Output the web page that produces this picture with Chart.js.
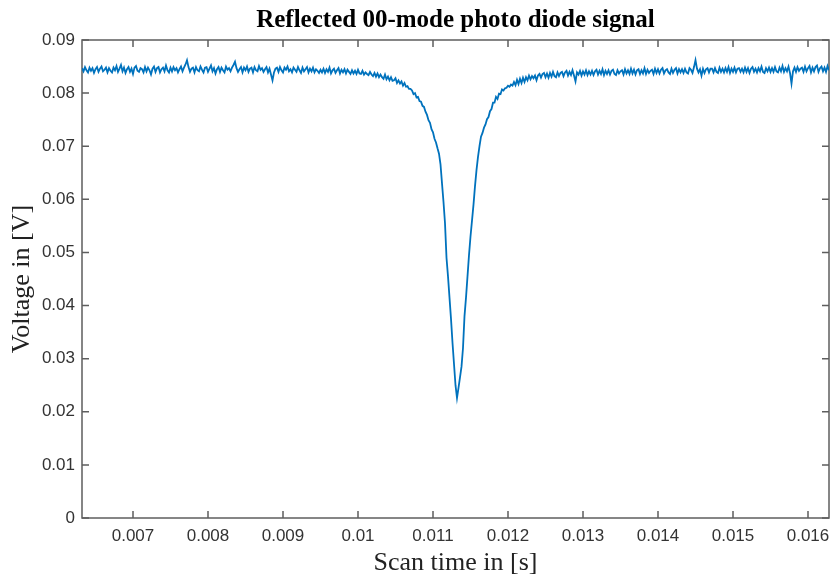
<!DOCTYPE html>
<html>
<head>
<meta charset="utf-8">
<script src="https://cdn.jsdelivr.net/npm/chart.js@4.4.1/dist/chart.umd.min.js"></script>
<style>
  html, body { margin: 0; padding: 0; background: #fff; }
</style>
</head>
<body>
<canvas id="diodeChart" width="834" height="577"></canvas>
<script>
const chartTitle = 'Reflected 00-mode photo diode signal';
const xTitle = 'Scan time in [s]';
const yTitle = 'Voltage in [V]';

const xTicks = [0.007, 0.008, 0.009, 0.010, 0.011, 0.012, 0.013, 0.014, 0.015, 0.016];
const xTickLabels = ['0.007', '0.008', '0.009', '0.01', '0.011', '0.012', '0.013', '0.014', '0.015', '0.016'];
const yTicks = [0, 0.01, 0.02, 0.03, 0.04, 0.05, 0.06, 0.07, 0.08, 0.09];
const yTickLabels = ['0', '0.01', '0.02', '0.03', '0.04', '0.05', '0.06', '0.07', '0.08', '0.09'];

// scope trace: first sample time and sample spacing
const t0 = 0.00632;
const dt = 0.00002;

// photo diode voltage in mV, one value per sample
const signalMV = [
  84.7,84.1,84.9,84.3,83.9,84.8,84.2,84.7,83.8,84.5,84.9,84.0,84.6,85.0,84.1,84.4,84.8,83.9,84.7,84.2,
  83.9,84.8,84.3,85.1,84.0,84.6,85.3,84.1,84.8,83.8,84.5,84.9,84.0,84.6,83.6,84.8,85.1,84.2,84.0,84.7,
  84.5,83.9,84.9,84.1,84.8,84.3,83.5,84.6,85.0,84.0,84.7,84.9,83.9,84.5,84.8,84.1,85.2,84.3,83.9,84.8,
  84.1,84.9,84.3,84.7,83.9,84.5,85.0,84.1,84.8,85.4,86.2,84.9,84.0,84.6,84.8,83.9,84.9,84.3,84.1,85.0,
  84.4,83.9,84.8,84.9,84.0,84.6,85.2,84.1,84.7,83.7,84.5,84.9,84.0,84.8,84.3,83.9,85.0,84.4,84.7,84.1,
  84.8,85.3,85.9,84.7,84.0,84.5,84.9,83.9,84.8,84.3,85.0,84.0,84.6,84.8,83.9,84.9,84.3,84.1,85.1,84.4,
  84.7,84.0,84.5,84.9,83.9,84.6,83.5,82.4,83.9,84.6,84.8,84.0,84.9,84.3,83.9,84.8,84.4,85.0,84.1,84.5,
  83.9,84.8,84.4,84.0,84.9,84.3,83.8,84.8,84.1,84.5,84.9,83.9,84.6,84.1,84.8,83.9,84.5,84.2,83.8,84.4,
  83.9,84.6,83.8,84.5,84.0,84.8,83.7,84.3,84.6,83.8,84.3,84.7,83.7,84.4,83.9,84.5,83.7,84.4,84.0,83.6,
  84.3,83.7,84.2,83.6,84.4,83.7,83.6,84.2,83.5,83.9,83.6,83.4,84.0,83.5,83.2,83.8,83.1,83.7,83.0,83.5,
  83.0,82.7,83.5,82.6,83.1,82.4,83.0,82.3,82.4,82.8,81.9,82.4,81.8,82.2,81.4,81.9,81.2,81.3,80.8,80.8,
  80.5,79.8,80.0,79.2,79.3,78.5,78.4,77.6,77.4,76.5,75.9,74.9,74.4,73.2,72.6,71.4,70.7,69.6,68.6,66.6,
  63.0,59.5,55.5,49.0,45.5,41.5,37.5,33.0,29.0,25.0,22.6,24.5,26.5,28.5,32.0,38.0,41.5,45.5,49.5,53.0,
  56.0,59.0,62.5,65.5,68.0,70.0,71.8,72.5,73.5,74.1,75.1,75.5,76.6,77.0,78.2,78.2,79.3,78.9,79.9,79.8,
  80.7,80.5,80.9,81.0,81.4,81.2,81.6,81.4,82.1,81.5,82.5,81.7,82.7,81.9,82.9,82.1,83.0,82.4,83.3,82.6,
  83.2,82.8,83.3,82.4,83.3,83.6,82.9,83.6,83.8,83.0,83.7,82.9,83.8,83.1,84.0,83.2,83.0,83.9,83.2,83.8,
  84.0,83.2,83.9,84.2,83.3,84.0,83.4,84.3,83.3,82.2,83.9,83.5,84.2,83.3,84.1,83.5,84.3,83.4,84.1,83.5,
  84.2,83.4,84.1,84.4,83.5,84.2,83.6,84.5,83.4,84.2,83.6,84.3,83.5,84.2,84.4,83.6,83.4,84.3,83.7,84.1,
  84.3,83.5,84.5,83.7,84.3,83.6,84.6,83.7,84.4,83.5,84.3,84.5,83.6,84.3,83.7,84.7,83.6,84.4,83.8,84.2,
  84.4,83.6,84.6,83.8,84.5,83.7,84.4,84.7,83.7,84.3,84.5,83.9,83.6,84.6,83.8,84.4,84.7,83.7,84.5,83.9,
  84.5,83.8,84.6,83.9,83.7,84.7,84.4,83.8,84.9,86.2,84.6,83.9,84.5,83.3,84.6,83.8,84.5,84.7,83.9,84.6,
  84.6,83.9,84.7,84.0,83.8,84.8,84.0,84.6,83.9,84.7,84.0,84.9,83.8,84.6,84.0,84.8,83.9,84.6,84.7,84.0,
  84.6,83.9,84.8,84.0,84.7,83.8,84.6,84.9,84.0,84.6,83.9,84.7,84.1,85.0,84.0,83.8,84.7,84.1,84.8,84.0,
  84.7,84.0,84.9,84.1,83.9,84.8,84.1,85.1,84.0,84.7,84.1,85.0,83.8,81.8,84.1,84.8,84.0,84.9,84.2,84.6,
  84.8,84.0,85.0,84.1,84.7,85.1,83.9,84.8,84.1,84.9,85.2,84.0,84.7,85.0,84.1,84.8,84.0,85.1,84.3
];

const points = signalMV.map((mv, i) => ({ x: t0 + i * dt, y: mv / 1000 }));

// MATLAB style box with inward ticks on all four sides, plus the title
const axesBox = {
  id: 'axesBox',
  beforeDatasetsDraw(chart) {
    const { ctx, chartArea: a, scales } = chart;
    const tick = 7;
    ctx.save();
    ctx.strokeStyle = '#5e5e5e';
    ctx.lineWidth = 1.5;
    ctx.strokeRect(a.left, a.top, a.width, a.height);
    ctx.beginPath();
    xTicks.forEach(v => {
      const px = scales.x.getPixelForValue(v);
      ctx.moveTo(px, a.bottom); ctx.lineTo(px, a.bottom - tick);
      ctx.moveTo(px, a.top); ctx.lineTo(px, a.top + tick);
    });
    yTicks.forEach(v => {
      const py = scales.y.getPixelForValue(v);
      ctx.moveTo(a.left, py); ctx.lineTo(a.left + tick, py);
      ctx.moveTo(a.right, py); ctx.lineTo(a.right - tick, py);
    });
    ctx.stroke();

    ctx.fillStyle = '#000';
    ctx.font = 'bold 25px "Liberation Serif"';
    ctx.textAlign = 'center';
    ctx.textBaseline = 'alphabetic';
    ctx.fillText(chartTitle, (a.left + a.right) / 2, 27);
    ctx.restore();
  }
};

const ctx = document.getElementById('diodeChart').getContext('2d');
new Chart(ctx, {
  type: 'line',
  data: {
    datasets: [{
      label: 'Photo diode',
      data: points,
      borderColor: '#0072BD',
      borderWidth: 1.8,
      pointRadius: 0,
      tension: 0,
      fill: false
    }]
  },
  options: {
    responsive: false,
    animation: false,
    layout: { padding: { top: 40, right: 5, left: 0, bottom: 0 } },
    plugins: {
      legend: { display: false },
      tooltip: { enabled: false },
      title: { display: false }
    },
    scales: {
      x: {
        type: 'linear',
        min: 0.00632,
        max: 0.01628,
        afterBuildTicks: scale => { scale.ticks = xTicks.map(value => ({ value })); },
        afterFit: scale => {
          scale.height = 59;
          scale.paddingLeft = 0;
          scale.paddingRight = 0;
        },
        grid: { display: false, drawTicks: false },
        border: { display: false },
        ticks: {
          autoSkip: false,
          maxRotation: 0,
          padding: 8,
          color: '#333',
          font: { family: '"Liberation Sans"', size: 17 },
          callback: (v, i) => xTickLabels[i]
        },
        title: {
          display: true,
          text: xTitle,
          color: '#222',
          font: { family: '"Liberation Serif"', size: 26, lineHeight: 1 },
          padding: { top: 0, bottom: 1 }
        }
      },
      y: {
        min: 0,
        max: 0.09,
        afterBuildTicks: scale => { scale.ticks = yTicks.map(value => ({ value })); },
        afterFit: scale => { scale.width = 82; },
        grid: { display: false, drawTicks: false },
        border: { display: false },
        ticks: {
          autoSkip: false,
          padding: 7,
          color: '#333',
          font: { family: '"Liberation Sans"', size: 17 },
          callback: (v, i) => yTickLabels[i]
        },
        title: {
          display: true,
          text: yTitle,
          color: '#222',
          font: { family: '"Liberation Serif"', size: 26, lineHeight: 1 },
          padding: { top: 9, bottom: 0 }
        }
      }
    }
  },
  plugins: [axesBox]
});
</script>
</body>
</html>
